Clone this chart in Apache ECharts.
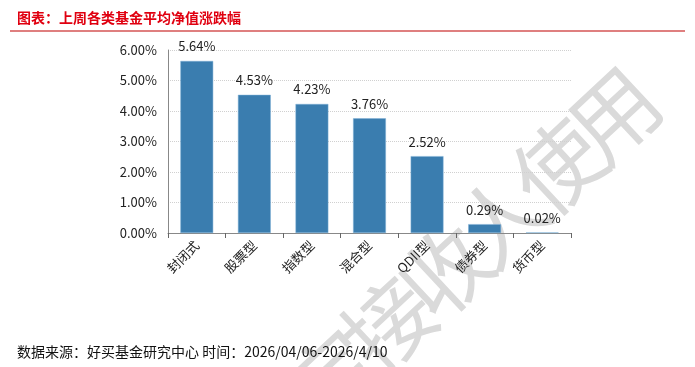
<!DOCTYPE html>
<html><head><meta charset="utf-8">
<script src="https://cdn.jsdelivr.net/npm/echarts@6/dist/echarts.min.js"></script>
<style>html,body{margin:0;padding:0;background:#fff}#c{width:695px;height:367px}</style>
</head><body><div id="c"></div>
<script>
const categories = ['封闭式','股票型','指数型','混合型','QDII型','债券型','货币型'];
const values = [5.64, 4.53, 4.23, 3.76, 2.52, 0.29, 0.02];
const yTicks = [0,1,2,3,4,5,6];
const titleText = '图表：上周各类基金平均净值涨跌幅';
const sourceText = '数据来源：好买基金研究中心 时间：2026/04/06-2026/4/10';
const watermarkText = '指定接收人使用';

const chart = echarts.init(document.getElementById('c'), null, {renderer:'canvas'});
const font = '"Noto Sans CJK SC","Microsoft YaHei",sans-serif';
const ang = 43*Math.PI/180, step = 77, ex = 614, ey = 114;
const chars = Array.from(watermarkText), n = chars.length;
const wm = chars.map((ch,i)=>({
  type:'text', x: ex - (n-1-i)*step*Math.cos(ang), y: ey + (n-1-i)*step*Math.sin(ang),
  rotation: ang, z:-10,
  style:{text:ch, fill:'#dadada', font:'88px '+font, align:'center', verticalAlign:'middle'}
}));
chart.setOption({
  animation:false,
  textStyle:{fontFamily:font},
  grid:{left:168,right:124,top:50,bottom:134,containLabel:false},
  xAxis:{type:'category',data:categories,
    axisLine:{lineStyle:{color:'#888',width:1}},
    axisTick:{show:true,length:5,lineStyle:{color:'#666'}},
    axisLabel:{rotate:45,fontSize:13,color:'#222',margin:10,fontFamily:font}},
  yAxis:{type:'value',min:yTicks[0],max:yTicks[yTicks.length-1],interval:1,
    axisLine:{show:true,lineStyle:{color:'#888'}},
    axisTick:{show:false},
    splitLine:{lineStyle:{color:'#d0d0d0',type:'dotted'}},
    axisLabel:{fontSize:13,color:'#222',margin:11,formatter:v=>v.toFixed(2)+'%',fontFamily:font}},
  series:[{type:'bar',data:values,barCategoryGap:'43%',
    itemStyle:{color:'#3A7DAF',borderColor:'#7fb0d6',borderWidth:0.5},
    label:{show:true,position:'top',distance:8,fontSize:13,color:'#222',formatter:p=>p.value.toFixed(2)+'%',fontFamily:font}}],
  graphic:[
    {type:'text',left:17,top:11,style:{text:titleText,fill:'#E00010',font:'bold 14px '+font}},
    {type:'line',shape:{x1:10,y1:31,x2:685,y2:31},style:{stroke:'#C00000',lineWidth:1.2}},
    {type:'text',left:17,top:345,style:{text:sourceText,fill:'#111',font:'14px '+font}}
  ].concat(wm)
});
</script></body></html>
